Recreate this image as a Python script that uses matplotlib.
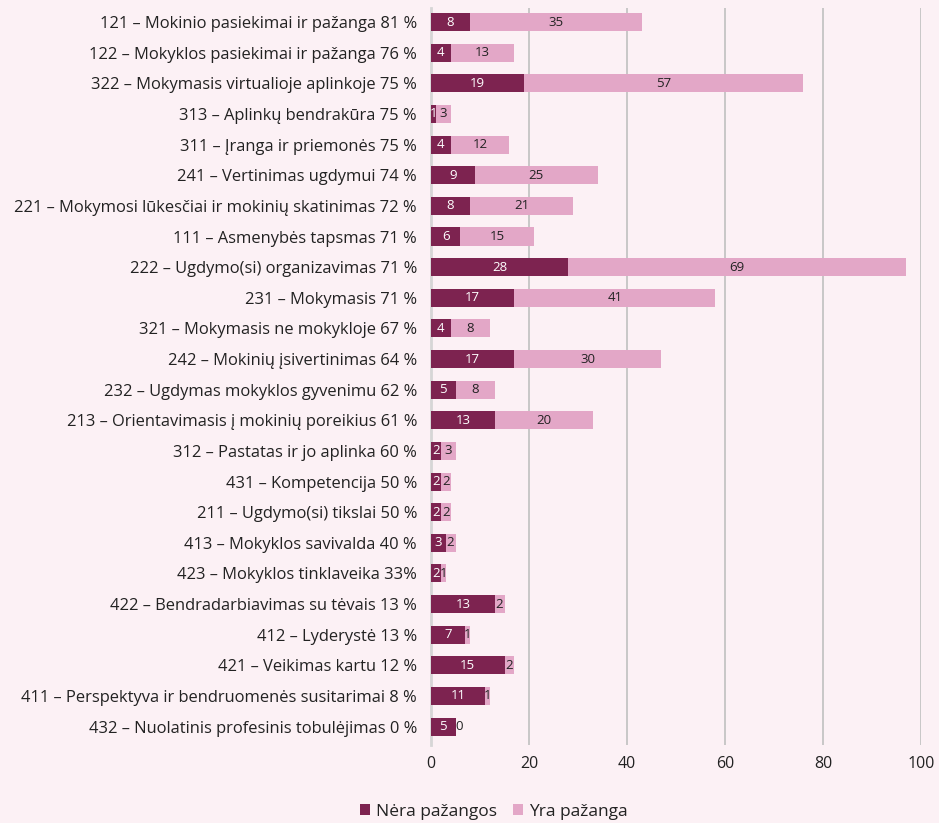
import matplotlib
matplotlib.use("Agg")
import matplotlib.pyplot as plt
import numpy as np

categories = [
    "121 – Mokinio pasiekimai ir pažanga 81 %",
    "122 – Mokyklos pasiekimai ir pažanga 76 %",
    "322 – Mokymasis virtualioje aplinkoje 75 %",
    "313 – Aplinkų bendrakūra 75 %",
    "311 – Įranga ir priemonės 75 %",
    "241 – Vertinimas ugdymui 74 %",
    "221 – Mokymosi lūkesčiai ir mokinių skatinimas 72 %",
    "111 – Asmenybės tapsmas 71 %",
    "222 – Ugdymo(si) organizavimas 71 %",
    "231 – Mokymasis 71 %",
    "321 – Mokymasis ne mokykloje 67 %",
    "242 – Mokinių įsivertinimas 64 %",
    "232 – Ugdymas mokyklos gyvenimu 62 %",
    "213 – Orientavimasis į mokinių poreikius 61 %",
    "312 – Pastatas ir jo aplinka 60 %",
    "431 – Kompetencija 50 %",
    "211 – Ugdymo(si) tikslai 50 %",
    "413 – Mokyklos savivalda 40 %",
    "423 – Mokyklos tinklaveika 33%",
    "422 – Bendradarbiavimas su tėvais 13 %",
    "412 – Lyderystė 13 %",
    "421 – Veikimas kartu 12 %",
    "411 – Perspektyva ir bendruomenės susitarimai 8 %",
    "432 – Nuolatinis profesinis tobulėjimas 0 %",
]
nera = [8, 4, 19, 1, 4, 9, 8, 6, 28, 17, 4, 17, 5, 13, 2, 2, 2, 3, 2, 13, 7, 15, 11, 5]
yra = [35, 13, 57, 3, 12, 25, 21, 15, 69, 41, 8, 30, 8, 20, 3, 2, 2, 2, 1, 2, 1, 2, 1, 0]
series_names = ["Nėra pažangos", "Yra pažanga"]
xticks = [0, 20, 40, 60, 80, 100]

plt.rcParams['font.family'] = ['Open Sans', 'DejaVu Sans']

bg = "#fcf1f5"
dark = "#7d2350"
light = "#e3a7c7"

fig = plt.figure(figsize=(9.39, 8.23), dpi=100, facecolor=bg)
ax = fig.add_axes([431/939, 78/823, (921-431)/939, (745-8)/823])
ax.set_facecolor(bg)

y = np.arange(len(categories))
h = 0.59
b1 = ax.barh(y, nera, height=h, color=dark, label=series_names[0], zorder=3)
b2 = ax.barh(y, yra, left=nera, height=h, color=light, label=series_names[1], zorder=3)

fs = 9.5
for i in range(len(categories)):
    ax.text(nera[i] / 2, y[i], str(nera[i]), ha="center", va="center",
            color="white", fontsize=fs, zorder=4)
    cx = nera[i] + yra[i] / 2 if yra[i] > 0 else nera[i] + 0.8
    ax.text(cx, y[i], str(yra[i]), ha="center", va="center",
            color="#222222", fontsize=fs, zorder=4)

ax.set_xlim(0, 100)
ax.set_ylim(len(categories) - 1 + 0.6, -0.46)
ax.set_xticks(xticks)
ax.set_xticklabels([str(t) for t in xticks], fontsize=11.5, color="#222222")
ax.set_yticks(y)
ax.set_yticklabels(categories, fontsize=11.9, color="#222222")
ax.tick_params(axis="y", length=0, pad=10)
ax.tick_params(axis="x", length=0, pad=8)
ax.xaxis.grid(True, color="#c4c4c4", linewidth=1.3, zorder=0)
ax.set_axisbelow(True)
for s in ["top", "right", "bottom"]:
    ax.spines[s].set_visible(False)
ax.spines["left"].set_color("#d6d6d6")
ax.spines["left"].set_linewidth(2)

leg = fig.legend(handles=[b1, b2], labels=series_names, loc="center",
                 bbox_to_anchor=(494/939, 1 - 812/823), ncol=2, frameon=False,
                 fontsize=12.5, handlelength=0.6, handleheight=0.6,
                 handletextpad=0.35, columnspacing=0.9)
for t in leg.get_texts():
    t.set_color("#222222")

fig.savefig("out.png", dpi=100, facecolor=bg)
